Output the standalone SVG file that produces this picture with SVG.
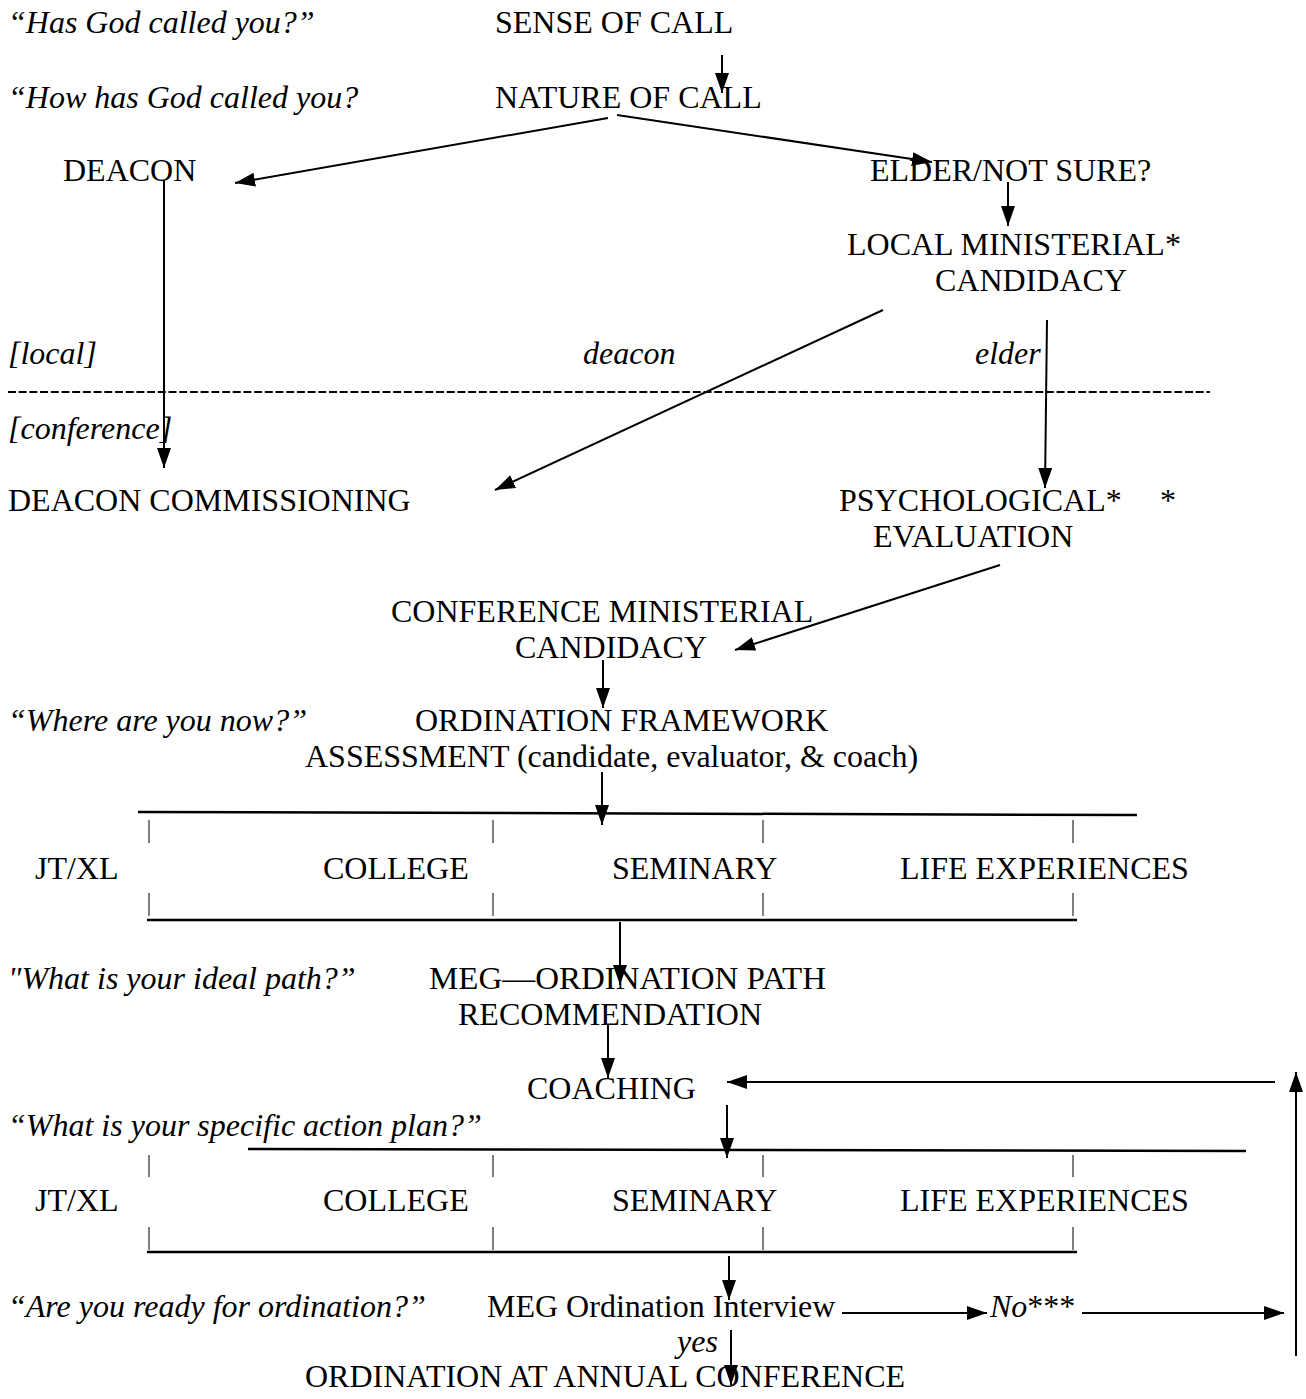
<svg xmlns="http://www.w3.org/2000/svg" width="1306" height="1399" viewBox="0 0 1306 1399">
<style>
text{font-family:"Liberation Serif","Times New Roman",serif;font-size:32px;fill:#000}
.q{font-style:italic}
.c line,.c path{stroke:#000;stroke-width:2;fill:none}
.c .a{marker-end:url(#ah)}
.t line{stroke:#000;stroke-width:1}
.bar{stroke:#000;stroke-width:2.5}
</style>
<defs>
<marker id="ah" markerUnits="userSpaceOnUse" markerWidth="22" markerHeight="16" refX="20" refY="7" orient="auto">
<path d="M0,0 L20,7 L0,14 Z" fill="#000"/>
</marker>
</defs>
<rect width="1306" height="1399" fill="#fff"/>

<g id="questions">
<text class="q" x="8" y="33">“Has God called you?”</text>
<text class="q" x="8" y="108">“How has God called you?</text>
<text class="q" x="8" y="364">[local]</text>
<text class="q" x="583" y="364">deacon</text>
<text class="q" x="975" y="364">elder</text>
<text class="q" x="8" y="439">[conference]</text>
<text class="q" x="8" y="731">“Where are you now?”</text>
<text class="q" x="8" y="989">"What is your ideal path?”</text>
<text class="q" x="8" y="1136">“What is your specific action plan?”</text>
<text class="q" x="8" y="1317">“Are you ready for ordination?”</text>
<text class="q" x="677" y="1352">yes</text>
</g>

<g id="sense"><text x="495" y="33">SENSE OF CALL</text></g>
<g id="nature"><text x="495" y="108">NATURE OF CALL</text></g>
<g id="deacon"><text x="63" y="181">DEACON</text></g>
<g id="elder"><text x="870" y="181">ELDER/NOT SURE?</text></g>
<g id="local"><text x="847" y="255">LOCAL MINISTERIAL*</text><text x="935" y="291">CANDIDACY</text></g>
<g id="deaconcomm"><text x="8" y="511">DEACON COMMISSIONING</text></g>
<g id="psych"><text x="839" y="511">PSYCHOLOGICAL*</text><text x="1160" y="511">*</text><text x="873" y="547">EVALUATION</text></g>
<g id="confcand"><text x="391" y="622">CONFERENCE MINISTERIAL</text><text x="515" y="658">CANDIDACY</text></g>
<g id="ordframe"><text x="415" y="731">ORDINATION FRAMEWORK</text><text x="305" y="767">ASSESSMENT (candidate, evaluator, &amp; coach)</text></g>
<g id="bar1">
<text x="35" y="879">JT/XL</text><text x="323" y="879">COLLEGE</text><text x="612" y="879">SEMINARY</text><text x="900" y="879">LIFE EXPERIENCES</text>
</g>
<g id="megpath"><text x="429" y="989" textLength="397" lengthAdjust="spacingAndGlyphs">MEG—ORDINATION PATH</text><text x="458" y="1025">RECOMMENDATION</text></g>
<g id="coaching"><text x="527" y="1099">COACHING</text></g>
<g id="bar2">
<text x="35" y="1211">JT/XL</text><text x="323" y="1211">COLLEGE</text><text x="612" y="1211">SEMINARY</text><text x="900" y="1211">LIFE EXPERIENCES</text>
</g>
<g id="interview"><text x="487" y="1317">MEG Ordination Interview</text></g>
<g id="no"><text class="q" x="990" y="1317">No<tspan font-style="normal">***</tspan></text></g>
<g id="ordination"><text x="305" y="1387">ORDINATION AT ANNUAL CONFERENCE</text></g>

<g id="separator">
<line x1="8" y1="392" x2="1210" y2="392" stroke="#000" stroke-width="2" stroke-dasharray="8 2.7"/>
</g>

<g class="t" id="ticks">
<line x1="149" y1="820" x2="149" y2="843"/><line x1="493" y1="820" x2="493" y2="843"/><line x1="763" y1="820" x2="763" y2="843"/><line x1="1073" y1="820" x2="1073" y2="843"/>
<line x1="149" y1="893" x2="149" y2="916"/><line x1="493" y1="893" x2="493" y2="916"/><line x1="763" y1="893" x2="763" y2="916"/><line x1="1073" y1="893" x2="1073" y2="916"/>
<line x1="149" y1="1155" x2="149" y2="1177"/><line x1="493" y1="1155" x2="493" y2="1177"/><line x1="763" y1="1155" x2="763" y2="1177"/><line x1="1073" y1="1155" x2="1073" y2="1177"/>
<line x1="149" y1="1227" x2="149" y2="1250"/><line x1="493" y1="1227" x2="493" y2="1250"/><line x1="763" y1="1227" x2="763" y2="1250"/><line x1="1073" y1="1227" x2="1073" y2="1250"/>
</g>
<g id="bars">
<line class="bar" x1="138" y1="812" x2="1137" y2="815"/>
<line class="bar" x1="147" y1="920" x2="1077" y2="920"/>
<line class="bar" x1="248" y1="1149" x2="1246" y2="1151"/>
<line class="bar" x1="147" y1="1252" x2="1077" y2="1252"/>
</g>

<g class="c" id="connectors">
<line class="a" x1="722" y1="55" x2="722" y2="93"/>
<line class="a" x1="608" y1="118" x2="235" y2="183"/>
<line class="a" x1="617" y1="115" x2="932" y2="162"/>
<line class="a" x1="1008" y1="182" x2="1008" y2="226"/>
<line class="a" x1="164" y1="180" x2="164" y2="468"/>
<line class="a" x1="883" y1="310" x2="495" y2="490"/>
<line class="a" x1="1047" y1="320" x2="1045" y2="488"/>
<line class="a" x1="1000" y1="565" x2="735" y2="650"/>
<line class="a" x1="603" y1="660" x2="603" y2="708"/>
<line class="a" x1="602" y1="772" x2="602" y2="825"/>
<line class="a" x1="620" y1="922" x2="620" y2="985"/>
<line class="a" x1="608" y1="1025" x2="608" y2="1078"/>
<line class="a" x1="1275" y1="1082" x2="727" y2="1082"/>
<line class="a" x1="727" y1="1105" x2="727" y2="1158"/>
<line class="a" x1="729" y1="1256" x2="729" y2="1300"/>
<line class="a" x1="842" y1="1313" x2="987" y2="1313"/>
<line class="a" x1="1082" y1="1313" x2="1284" y2="1313"/>
<line class="a" x1="1296" y1="1356" x2="1296" y2="1072"/>
<line class="a" x1="731" y1="1330" x2="731" y2="1385"/>
</g>
</svg>
